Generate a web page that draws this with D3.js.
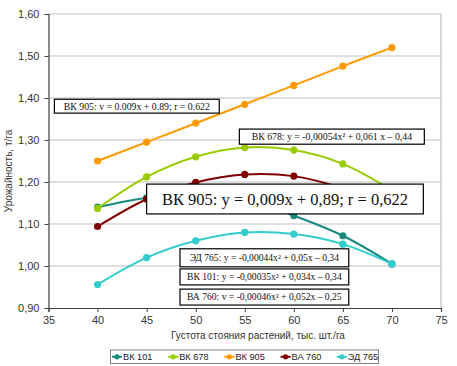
<!DOCTYPE html>
<html>
<head>
<meta charset="utf-8">
<script src="https://cdn.jsdelivr.net/npm/d3@7"></script>
<style>
  body { margin: 0; background: #fff; }
  text { font-family: "Liberation Sans", Arial, sans-serif; }
  .note text { font-family: "Liberation Serif", "Times New Roman", serif; }
</style>
</head>
<body>
<div id="chart"></div>
<script>
// Data
const density = [40, 45, 50, 55, 60, 65, 70];
const vk101 = [1.14, 1.162, 1.17, 1.16, 1.12, 1.072, 1.005];
const vk678 = [1.137, 1.212, 1.26, 1.282, 1.276, 1.243, 1.18];
const vk905 = [1.25, 1.295, 1.34, 1.385, 1.43, 1.476, 1.52];
const va760 = [1.094, 1.159, 1.199, 1.218, 1.214, 1.185, 1.14];
const ed765 = [0.956, 1.02, 1.06, 1.08, 1.076, 1.052, 1.005];
const seriesNames = ["ВК 101", "ВК 678", "ВК 905", "ВА 760", "ЭД 765"];
const seriesColors = ["#17897e", "#99cc00", "#ff9900", "#800000", "#33cccc"];
const yTicks = [0.9, 1.0, 1.1, 1.2, 1.3, 1.4, 1.5, 1.6];
const xTicks = [35, 40, 45, 50, 55, 60, 65, 70, 75];
const noteTexts = [
    "ВК 905: v = 0.009x + 0.89; r = 0.622",
    "ВК 678: y = -0,00054x² + 0,061 x – 0,44",
    "ЭД 765: y = -0,00044x² + 0,05x – 0,34",
    "ВК 101: y = -0,00035x² + 0,034x – 0,34",
    "ВА 760: v = -0,00046x² + 0,052x – 0,25",
    "ВК 905: y = 0,009x + 0,89; r = 0,622"
];

const width = 457;
const height = 366;
const margin = {top: 14, right: 16, bottom: 58, left: 48.5};

const svg = d3.select("#chart").append("svg")
    .attr("width", width)
    .attr("height", height);

const x = d3.scaleLinear().domain([35, 75]).range([margin.left, width - margin.right]);
const y = d3.scaleLinear().domain([0.9, 1.6]).range([height - margin.bottom, margin.top]);

// Gridlines
svg.append("g")
    .selectAll("line")
    .data(yTicks.slice(1))
    .enter().append("line")
    .attr("x1", x(35)).attr("x2", x(75))
    .attr("y1", d => y(d)).attr("y2", d => y(d))
    .attr("stroke", "#c0c0c0")
    .attr("stroke-width", 1.2);

// right border
svg.append("line")
    .attr("x1", x(75)).attr("x2", x(75))
    .attr("y1", y(1.6)).attr("y2", y(0.9))
    .attr("stroke", "#c0c0c0")
    .attr("stroke-width", 1.2);

// Axes
const yAxis = svg.append("g")
    .attr("transform", `translate(${x(35)},0)`)
    .call(d3.axisLeft(y).tickValues(yTicks).tickSize(4).tickPadding(5)
        .tickFormat(d => d3.format(".2f")(d).replace(".", ",")));
const xAxis = svg.append("g")
    .attr("transform", `translate(0,${y(0.9)})`)
    .call(d3.axisBottom(x).tickValues(xTicks).tickSize(4).tickPadding(4));

[xAxis, yAxis].forEach(a => {
    a.select(".domain").attr("stroke", "#404040").attr("stroke-width", 1.2);
    a.selectAll(".tick line").attr("stroke", "#404040");
    a.selectAll("text").attr("font-size", 11).attr("fill", "#333")
        .attr("font-family", "'Liberation Sans', Arial, sans-serif");
});

// Axis titles
svg.append("text")
    .attr("x", 258).attr("y", 339)
    .attr("text-anchor", "middle")
    .attr("font-size", 10)
    .attr("fill", "#333")
    .text("Густота стояния растений, тыс. шт./га");

svg.append("text")
    .attr("transform", `translate(12,${(y(0.9) + y(1.6)) / 2 + 10}) rotate(-90)`)
    .attr("text-anchor", "middle")
    .attr("font-size", 10)
    .attr("fill", "#333")
    .text("Урожайность, т/га");

// Series
const allSeries = [vk101, vk678, vk905, va760, ed765];
const line = d3.line()
    .x((d, i) => x(density[i]))
    .y(d => y(d))
    .curve(d3.curveCatmullRom.alpha(0.5));

allSeries.forEach((vals, k) => {
    const g = svg.append("g");
    g.append("path")
        .datum(vals)
        .attr("d", line)
        .attr("fill", "none")
        .attr("stroke", seriesColors[k])
        .attr("stroke-width", 2);
    g.selectAll("circle")
        .data(vals)
        .enter().append("circle")
        .attr("cx", (d, i) => x(density[i]))
        .attr("cy", d => y(d))
        .attr("r", 3.6)
        .attr("fill", seriesColors[k]);
});

// Equation boxes (data-space corners)
const noteBoxes = [
    {x0: 35.6, x1: 52.4, y0: 1.397, y1: 1.364, size: 9.8},
    {x0: 54.45, x1: 73.3, y0: 1.326, y1: 1.29, size: 9.8},
    {x0: 48.4, x1: 65.6, y0: 1.041, y1: 0.998, size: 9.6},
    {x0: 48.4, x1: 65.6, y0: 0.993, y1: 0.955, size: 9.6},
    {x0: 48.4, x1: 65.6, y0: 0.945, y1: 0.907, size: 9.6},
    {x0: 45.0, x1: 73.2, y0: 1.195, y1: 1.124, size: 16.5}
];

const notes = svg.selectAll(".note")
    .data(noteBoxes)
    .enter().append("g")
    .attr("class", "note");

notes.append("rect")
    .attr("x", d => x(d.x0))
    .attr("y", d => y(d.y0))
    .attr("width", d => x(d.x1) - x(d.x0))
    .attr("height", d => y(d.y1) - y(d.y0))
    .attr("fill", "#fff")
    .attr("stroke", "#000")
    .attr("stroke-width", 1.2);

notes.append("text")
    .attr("x", d => (x(d.x0) + x(d.x1)) / 2)
    .attr("y", d => (y(d.y0) + y(d.y1)) / 2)
    .attr("dy", "0.35em")
    .attr("text-anchor", "middle")
    .attr("font-size", d => d.size)
    .attr("fill", "#111")
    .text((d, i) => noteTexts[i]);

// Legend
const legend = svg.append("g");
legend.append("rect")
    .attr("x", 110.5).attr("y", 350)
    .attr("width", 268).attr("height", 13.5)
    .attr("fill", "#fff")
    .attr("stroke", "#808080");

const item = legend.selectAll(".item")
    .data(seriesNames)
    .enter().append("g")
    .attr("class", "item")
    .attr("transform", (d, i) => `translate(${123 + i * 56.2},356.8)`);

item.append("line")
    .attr("x1", -11).attr("x2", -1)
    .attr("stroke", (d, i) => seriesColors[i])
    .attr("stroke-width", 2);
item.append("circle")
    .attr("cx", -6).attr("r", 2.6)
    .attr("fill", (d, i) => seriesColors[i]);
item.append("text")
    .attr("x", 0)
    .attr("dy", "0.35em")
    .attr("font-size", 9.2)
    .attr("fill", "#222")
    .text(d => d);
</script>
</body>
</html>
